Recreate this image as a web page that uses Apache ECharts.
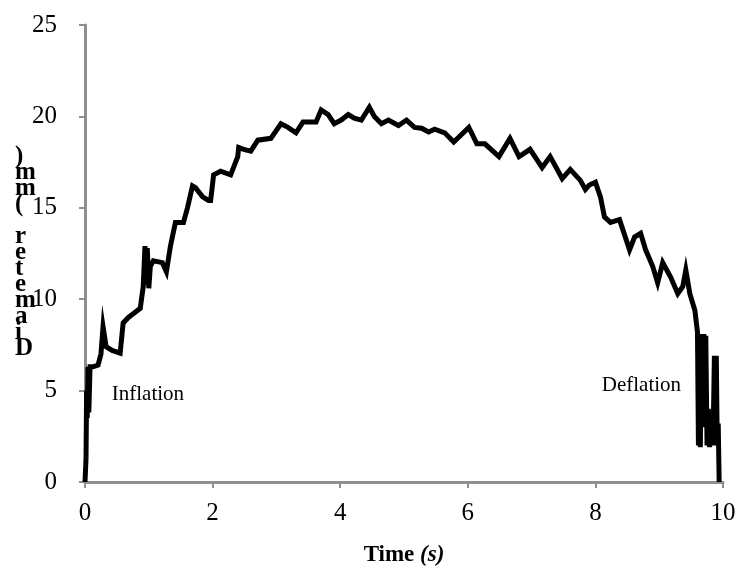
<!DOCTYPE html>
<html>
<head>
<meta charset="utf-8">
<script src="https://cdn.jsdelivr.net/npm/echarts@6/dist/echarts.min.js"></script>
<style>
  html, body { margin: 0; padding: 0; background: #fff; }
  #chart { width: 741px; height: 576px; }
</style>
</head>
<body>
<div id="chart"></div>
<script>
// Balloon diameter trace over one inflation/deflation cycle
const timeS = [
  0.000, 0.016, 0.025, 0.035, 0.047, 0.060, 0.079, 0.095, 0.126, 0.205, 0.250, 0.283,
  0.331, 0.425, 0.551, 0.598, 0.680, 0.756, 0.866, 0.913, 0.940, 0.960, 0.976, 1.000,
  1.024, 1.071, 1.213, 1.276, 1.339, 1.417, 1.543, 1.606, 1.685, 1.732, 1.843, 1.937,
  1.969, 2.016, 2.126, 2.283, 2.394, 2.409, 2.488, 2.598, 2.709, 2.913, 3.071, 3.181,
  3.307, 3.417, 3.622, 3.701, 3.811, 3.906, 4.016, 4.126, 4.220, 4.331, 4.457, 4.535,
  4.646, 4.756, 4.913, 5.039, 5.165, 5.276, 5.386, 5.480, 5.638, 5.780, 6.016, 6.142,
  6.268, 6.488, 6.661, 6.803, 6.976, 7.165, 7.291, 7.480, 7.606, 7.764, 7.843, 7.906,
  8.000, 8.079, 8.142, 8.236, 8.378, 8.535, 8.614, 8.709, 8.787, 8.898, 8.976, 9.055,
  9.181, 9.291, 9.370, 9.417, 9.480, 9.559, 9.600, 9.615, 9.630, 9.645, 9.660, 9.680,
  9.700, 9.715, 9.730, 9.750, 9.770, 9.790, 9.810, 9.830, 9.850, 9.865, 9.880, 9.895,
  9.910, 9.925, 9.940
];
const diameterMm = [
  0.0, 1.3, 5.0, 3.5, 6.3, 3.8, 6.3, 6.2, 6.3, 6.4, 7.0, 8.5,
  7.4, 7.2, 7.05, 8.7, 9.0, 9.2, 9.5, 10.7, 12.9, 10.8, 12.8, 10.6,
  11.8, 12.1, 12.0, 11.5, 12.9, 14.2, 14.2, 15.0, 16.2, 16.1, 15.6, 15.4,
  15.4, 16.8, 17.0, 16.8, 17.8, 18.3, 18.2, 18.1, 18.7, 18.8, 19.6, 19.4,
  19.1, 19.7, 19.7, 20.35, 20.1, 19.6, 19.8, 20.1, 19.9, 19.8, 20.5, 20.0,
  19.6, 19.8, 19.5, 19.8, 19.4, 19.35, 19.15, 19.3, 19.1, 18.6, 19.4, 18.5,
  18.5, 17.8, 18.8, 17.8, 18.2, 17.2, 17.8, 16.6, 17.1, 16.5, 16.0, 16.25,
  16.4, 15.6, 14.5, 14.2, 14.35, 12.7, 13.4, 13.6, 12.7, 11.8, 10.9, 12.0,
  11.2, 10.3, 10.7, 11.6, 10.3, 9.4, 8.2, 2.0, 8.0, 1.9, 8.1, 3.0,
  8.1, 3.5, 8.0, 2.0, 4.0, 1.9, 3.8, 2.0, 3.5, 6.9, 2.0, 6.9,
  2.0, 3.2, 0.0
];
const xTicks = [0, 2, 4, 6, 8, 10];
const yTicks = [0, 5, 10, 15, 20, 25];
const yAxisTitle = 'Diameter (mm)';
const phaseLabels = [
  { text: 'Inflation', t: 0.42, d: 4.8 },
  { text: 'Deflation', t: 8.1, d: 5.3 }
];

const points = timeS.map((t, i) => [t, diameterMm[i]]);
const serif = '"Liberation Serif", "DejaVu Serif", serif';
const axisGray = '#8f8f8f';

const chart = echarts.init(document.getElementById('chart'));
chart.setOption({
  backgroundColor: '#ffffff',
  animation: false,
  grid: { left: 85, right: 18, top: 25, bottom: 94 },
  xAxis: {
    type: 'value',
    min: xTicks[0],
    max: xTicks[xTicks.length - 1],
    interval: xTicks[1] - xTicks[0],
    name: '{b|Time }{i|(s)}',
    nameLocation: 'middle',
    nameGap: 62,
    nameTextStyle: {
      rich: {
        b: { fontFamily: serif, fontWeight: 'bold', fontSize: 23, color: '#000' },
        i: { fontFamily: serif, fontWeight: 'bold', fontStyle: 'italic', fontSize: 23, color: '#000' }
      }
    },
    axisLine: { show: true, lineStyle: { color: axisGray, width: 3 } },
    axisTick: { show: true, inside: false, length: 6, lineStyle: { color: axisGray, width: 2 } },
    axisLabel: { fontFamily: serif, fontSize: 25, color: '#000', margin: 19 },
    splitLine: { show: false }
  },
  yAxis: {
    type: 'value',
    min: yTicks[0],
    max: yTicks[yTicks.length - 1],
    interval: yTicks[1] - yTicks[0],
    axisLine: { show: true, lineStyle: { color: axisGray, width: 3 } },
    axisTick: { show: true, inside: false, length: 6, lineStyle: { color: axisGray, width: 2 } },
    axisLabel: { fontFamily: serif, fontSize: 25, color: '#000', margin: 28 },
    splitLine: { show: false }
  },
  series: [
    {
      type: 'line',
      data: points,
      symbol: 'none',
      lineStyle: { color: '#000', width: 5, join: 'miter' },
      z: 3
    },
    {
      type: 'scatter',
      symbolSize: 0,
      itemStyle: { opacity: 1 },
      data: phaseLabels.map(p => ({ value: [p.t, p.d], name: p.text })),
      label: {
        show: true,
        position: 'right',
        distance: 0,
        formatter: p => p.name,
        fontFamily: serif,
        fontSize: 21,
        color: '#000'
      },
      silent: true,
      z: 4
    }
  ],
  graphic: [
    {
      type: 'text',
      left: 15,
      top: 144,
      style: {
        // characters stacked upright, read from the bottom up
        text: yAxisTitle.split('').reverse().join('\n'),
        fontFamily: serif,
        fontWeight: 'bold',
        fontSize: 25,
        lineHeight: 16,
        fill: '#000',
        align: 'left'
      }
    }
  ]
});
</script>
</body>
</html>
